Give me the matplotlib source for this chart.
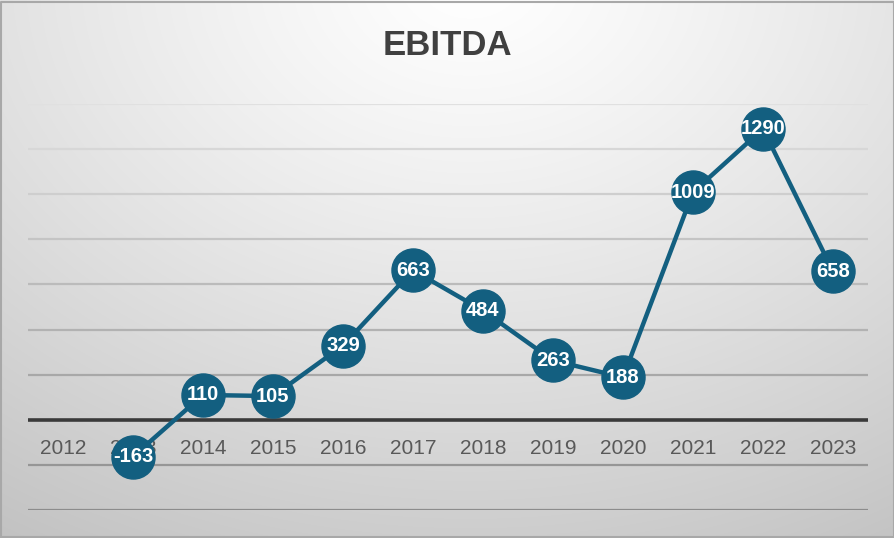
import numpy as np
import matplotlib
matplotlib.use("Agg")
import matplotlib.pyplot as plt

plt.rcParams['font.family'] = ['Liberation Sans', 'DejaVu Sans']

# data
years = ['2012', '2013', '2014', '2015', '2016', '2017', '2018', '2019', '2020', '2021', '2022', '2023']
ebitda = [None, -163, 110, 105, 329, 663, 484, 263, 188, 1009, 1290, 658]
grid_vals = [-400, -200, 200, 400, 600, 800, 1000, 1200, 1400]

line_col = '#135F80'

fig = plt.figure(figsize=(8.95, 5.38), dpi=100)

# radial gradient background
bg = fig.add_axes([0, 0, 1, 1])
h, w = 538, 895
yy, xx = np.mgrid[0:h, 0:w]
cx, cy = 470, -20
r = np.sqrt(((xx - cx) / 1.0) ** 2 + ((yy - cy) / 0.75) ** 2)
r = r / r.max()
shade = 1.0 - 0.24 * np.clip(r, 0, 1) ** 1.2
img = np.dstack([shade, shade, shade])
bg.imshow(img, aspect='auto', extent=[0, 1, 0, 1])
bg.set_xlim(0, 1)
bg.set_ylim(0, 1)
bg.axis('off')
# border
bg.plot([0.001, 0.999, 0.999, 0.001, 0.001], [0.001, 0.001, 0.996, 0.996, 0.001],
        color='#a8a8a8', lw=1.5)

ax = fig.add_axes([28 / 895, 1 - 510 / 538, 840 / 895, 406 / 538])
ax.patch.set_alpha(0)
ax.set_xlim(-0.5, len(years) - 0.5)
ax.set_ylim(-400, 1400)
for s in ax.spines.values():
    s.set_visible(False)
ax.set_xticks([])
ax.set_yticks([])

# gridlines, lighter towards the top
for g in grid_vals:
    t = (g + 400) / 1800.0
    c = 0.55 + 0.33 * t
    ax.axhline(g, color=(c, c, c), lw=1.6, zorder=1)
ax.axhline(0, color='#3a3a3a', lw=2.6, zorder=2)

# year labels just below the zero line
for i, yr in enumerate(years):
    ax.annotate(yr, (i, 0), xytext=(0, -21), textcoords='offset points',
                ha='center', va='center', fontsize=15, color='#595959', zorder=3)

xs = [i for i, v in enumerate(ebitda) if v is not None]
vs = [v for v in ebitda if v is not None]
ax.plot(xs, vs, color=line_col, lw=3.2, marker='o', markersize=31,
        markerfacecolor=line_col, markeredgecolor=line_col, zorder=4)
for x, v in zip(xs, vs):
    ax.text(x, v, str(v), ha='center', va='center', fontsize=14.5,
            fontweight='bold', color='white', zorder=5)

fig.text(0.5, 1 - 46 / 538, 'EBITDA', ha='center', va='center', fontsize=25,
         fontweight='bold', color='#404040')

fig.savefig('out.png', dpi=100)
